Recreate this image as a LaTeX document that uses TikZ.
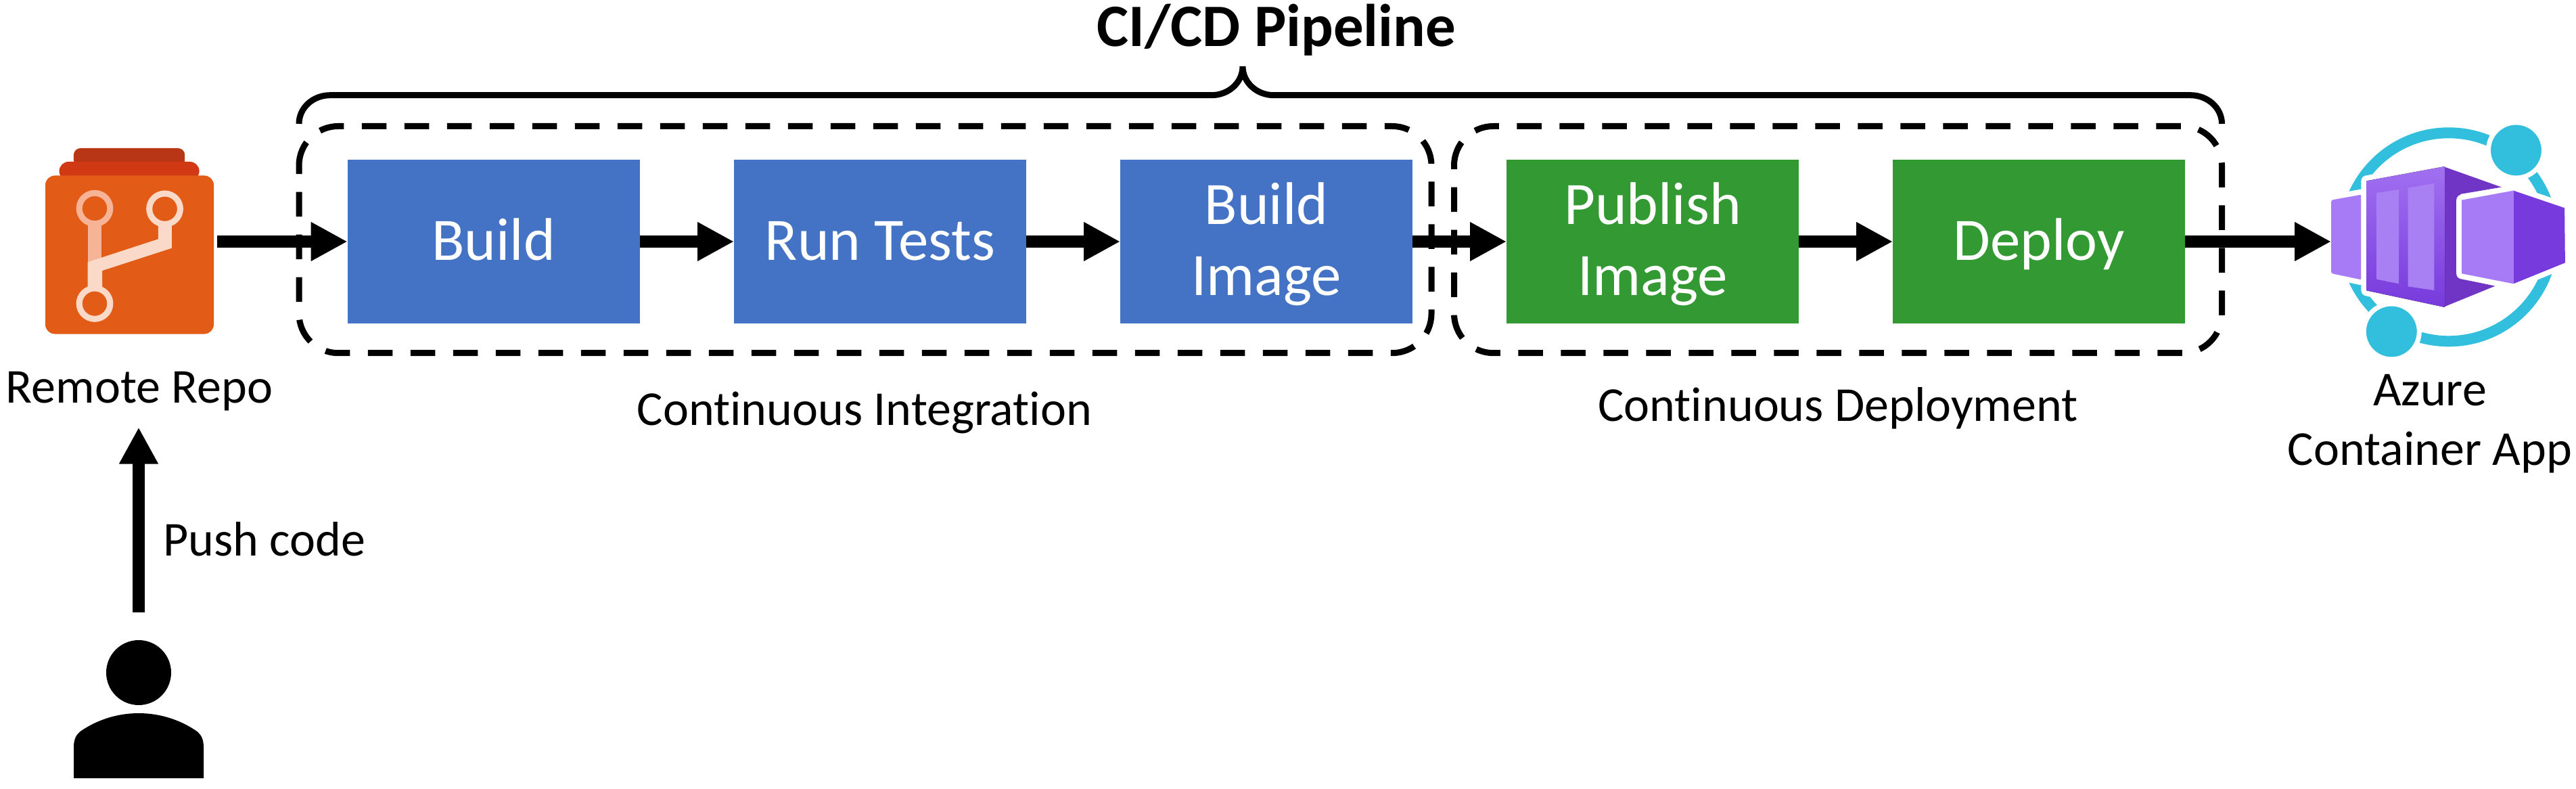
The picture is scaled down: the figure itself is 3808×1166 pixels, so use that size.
\documentclass[tikz,border=0pt]{standalone}
\usepackage{fontspec}
\setmainfont{Carlito}[Ligatures=NoCommon]
\usetikzlibrary{arrows.meta}
\definecolor{ciblue}{HTML}{4472C4}
\definecolor{cdgreen}{HTML}{339933}
\definecolor{repoA}{HTML}{E25B17}
\definecolor{repoB}{HTML}{D03914}
\definecolor{repoC}{HTML}{B83616}
\definecolor{repoL}{HTML}{F7B396}
\definecolor{repoW}{HTML}{FBD9C9}
\definecolor{acaC}{HTML}{32BEDD}
\definecolor{acaL}{HTML}{A67BF5}
\definecolor{acaT}{HTML}{A170F0}
\definecolor{acaD}{HTML}{773ADC}
\definecolor{acaS}{HTML}{7035C4}
\definecolor{acaW}{HTML}{A880F4}
\newcommand{\boxstrut}{\rule[-7pt]{0pt}{42pt}}
\tikzset{
  x=0.5pt,y=-0.5pt,
  stagebox/.style={minimum width=216pt,minimum height=120.5pt,inner sep=0pt,outer sep=0pt,text=white,align=center,font=\fontsize{44.5}{52.5}\selectfont},
  blue box/.style={stagebox,fill=ciblue},
  green box/.style={stagebox,fill=cdgreen},
  flow/.style={line width=9pt,-{Triangle[length=27pt,width=27pt]}},
  groupbox/.style={line width=4.5pt,dash pattern=on 18.25pt off 13.25pt},
  brace line/.style={line width=4.5pt},
  caption/.style={inner sep=0pt,anchor=base,font=\fontsize{36}{44}\selectfont},
  halo/.style={draw=white,fill=white,line width=8pt,line join=round},
}
\begin{document}
\begin{tikzpicture}
\useasboundingbox (0,0) rectangle (3808,1166);
% title and brace
\node[caption,font=\fontsize{44.5}{53}\selectfont\bfseries] (title) at (1887,69) {CI/CD Pipeline};
\draw[brace line] (442,183) .. controls (442,159) and (463,140.7) .. (488,140.7) -- (1791,140.7) .. controls (1816,140.7) and (1837,122) .. (1837,98) .. controls (1837,122) and (1858,140.7) .. (1883,140.7) -- (3238,140.7) .. controls (3263,140.7) and (3284.5,159) .. (3284.5,183);
% stages
\node[blue box] (build) at (729.6,357) {\boxstrut Build};
\node[blue box] (tests) at (1301,357) {\boxstrut Run Tests};
\node[blue box] (image) at (1872,357) {\boxstrut Build\\Image\boxstrut};
\node[green box] (publish) at (2443,357) {\boxstrut Publish\\Image\boxstrut};
\node[green box] (deploy) at (3014,357) {\boxstrut Deploy};
% groups
\draw[groupbox] (442,244.5) .. controls (442,212.5) and (468,186.5) .. (500,186.5) -- (2058,186.5) .. controls (2090,186.5) and (2116,212.5) .. (2116,244.5) -- (2116,463.7) .. controls (2116,495.7) and (2090,521.7) .. (2058,521.7) -- (500,521.7) .. controls (468,521.7) and (442,495.7) .. (442,463.7) -- cycle;
\draw[groupbox] (2149.5,244.5) .. controls (2149.5,212.5) and (2175.5,186.5) .. (2207.5,186.5) -- (3226.5,186.5) .. controls (3258.5,186.5) and (3284.5,212.5) .. (3284.5,244.5) -- (3284.5,463.7) .. controls (3284.5,495.7) and (3258.5,521.7) .. (3226.5,521.7) -- (2207.5,521.7) .. controls (2175.5,521.7) and (2149.5,495.7) .. (2149.5,463.7) -- cycle;
\node[caption] (cilabel) at (1278,628) {Continuous Integration};
\node[caption] (cdlabel) at (2717,622) {Continuous Deployment};
% repository icon
\begin{scope}[shift={(0,180)},xscale=0.35714,yscale=0.33333]
\fill[repoC,rounded corners=5pt] (305,200) -- (305,117) -- (765,117) -- (765,200) -- cycle;
\fill[repoB,rounded corners=7pt] (245,260) -- (245,177) -- (825,177) -- (825,260) -- cycle;
\end{scope}
\node[fill=repoA,rounded corners=7pt,minimum width=124.5pt,minimum height=117pt,inner sep=0pt,outer sep=0pt] (repo) at (191.5,376.5) {};
\begin{scope}[shift={(0,180)},xscale=0.35714,yscale=0.33333]
\fill[repoL] (365,450) rectangle (421,625);
\draw[repoL,line width=4.5pt] (392,384) circle[x radius=64,y radius=68];
\fill[repoW] (363,622) -- (655,520) -- (655,450) -- (711,450) -- (711,560) -- (423,660) -- (423,740) -- (363,740) -- cycle;
\draw[repoW,line width=4.5pt] (682,386) circle[x radius=64,y radius=68];
\draw[repoW,line width=4.5pt] (392,806) circle[x radius=64,y radius=68];
\end{scope}
\node[caption] (repolabel) at (206,595) {Remote Repo};
% person
\node[circle,fill=black,minimum size=48pt,inner sep=0pt,outer sep=0pt] (personhead) at (205,994) {};
\fill[black] (109,1150) -- (109,1104) .. controls (109,1092) and (113,1085) .. (120,1080) .. controls (145,1063) and (175,1054) .. (205,1054) .. controls (235,1054) and (265,1063) .. (290,1080) .. controls (297,1085) and (301,1092) .. (301,1104) -- (301,1150) -- cycle;
\coordinate (pushtip) at (205,631.5);
\node[caption,anchor=base west] (pushlabel) at (241,821) {Push code};
% container app icon
\draw[acaC,line width=8pt] (3619.8,350.3) circle[radius=154];
\node[circle,fill=acaC,draw=white,line width=3.5pt,minimum size=41pt,inner sep=0pt] (nodeA) at (3719.4,222) {};
\node[circle,fill=acaC,draw=white,line width=3.5pt,minimum size=41pt,inner sep=0pt] (nodeB) at (3535.3,490) {};
\begin{scope}[shift={(3200,150)},xscale=0.3876,yscale=0.33333]
\path[halo] (635,437) -- (750,413) -- (750,790) -- (635,762) -- cycle;
\fill[acaL,rounded corners=1pt] (635,437) -- (750,413) -- (750,790) -- (635,762) -- cycle;
\path[halo] (770,352) -- (1062,290) -- (1062,910) -- (770,838) -- cycle;
\fill[acaS] (1062,288) -- (1285,380) -- (1130,410) -- (1115,430) -- (1115,760) -- (1130,785) -- (1260,818) -- (1062,912) -- cycle;
\fill[top color=acaT,bottom color=acaD] (770,352) -- (1068,288) -- (1068,912) -- (770,838) -- cycle;
\fill[acaW] (808,405) -- (893,390) -- (893,808) -- (808,788) -- cycle;
\fill[acaW] (928,383) -- (1028,363) -- (1028,837) -- (928,820) -- cycle;
\path[halo] (1133,437) -- (1330,395) -- (1525,472) -- (1527,715) -- (1330,808) -- (1133,763) -- cycle;
\fill[acaL] (1133,437) -- (1330,395) -- (1330,808) -- (1133,763) -- cycle;
\fill[acaD] (1330,395) -- (1525,472) -- (1527,715) -- (1330,808) -- cycle;
\end{scope}
\coordinate (aca) at (3446,357);
\node[caption] (acalabelA) at (3592,599) {Azure};
\node[caption] (acalabelB) at (3592,687) {Container App};
% connectors
\draw[flow,shorten <=2.5pt] (build.west -| repo.east) -- (build.west);
\draw[flow] (build.east) -- (tests.west);
\draw[flow] (tests.east) -- (image.west);
\draw[flow] (image.east) -- (publish.west);
\draw[flow] (publish.east) -- (deploy.west);
\draw[flow] (deploy.east) -- (aca);
\draw[flow,shorten <=20.5pt] (personhead.north) -- (pushtip);
\end{tikzpicture}
\end{document}
